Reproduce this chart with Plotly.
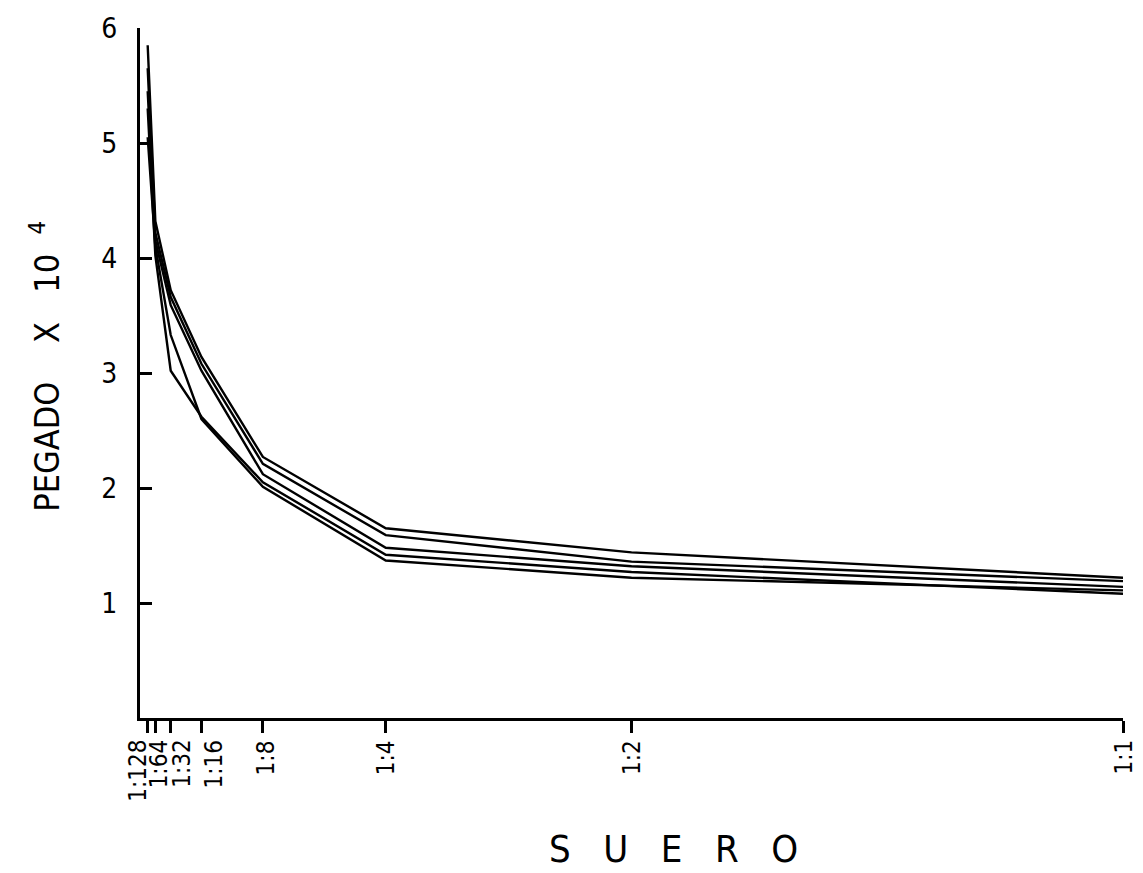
import plotly.graph_objects as go

# Serum dilutions and their relative concentration (linear x scale)
dilution_labels = ["1:128", "1:64", "1:32", "1:16", "1:8", "1:4", "1:2", "1:1"]
concentration = [1 / 128, 1 / 64, 1 / 32, 1 / 16, 1 / 8, 1 / 4, 1 / 2, 1.0]

# Bound counts (x 10^4) for each assay run
run_1 = [5.85, 4.32, 3.72, 3.14, 2.27, 1.65, 1.44, 1.22]
run_2 = [5.65, 4.22, 3.66, 3.08, 2.21, 1.59, 1.36, 1.19]
run_3 = [5.45, 4.15, 3.59, 3.02, 2.12, 1.48, 1.32, 1.14]
run_4 = [5.30, 4.02, 3.02, 2.62, 2.05, 1.42, 1.27, 1.08]
run_5 = [5.05, 4.10, 3.33, 2.60, 2.01, 1.37, 1.22, 1.11]
runs = [run_1, run_2, run_3, run_4, run_5]

y_ticks = [1, 2, 3, 4, 5, 6]

FONT = "Liberation Sans Narrow, DejaVu Sans Condensed, Arial Narrow, sans-serif"

fig = go.Figure()
for vals in runs:
    fig.add_trace(go.Scatter(
        x=concentration, y=vals, mode="lines",
        line=dict(color="black", width=2.4),
        showlegend=False, hoverinfo="skip",
    ))

# Rotated dilution labels under the x axis, spread apart where crowded
label_shift = {"1:128": -10, "1:64": 4, "1:32": 11, "1:16": 13, "1:8": 3}
for lab, c in zip(dilution_labels, concentration):
    fig.add_annotation(
        x=c, xref="x", y=0, yref="paper", text=lab, showarrow=False,
        textangle=-90, xanchor="center", yanchor="top",
        xshift=label_shift.get(lab, 0), yshift=-20,
        font=dict(family=FONT, size=24, color="black"),
    )

nb = "\u00a0"
fig.add_annotation(
    x=0.543, xref="paper", y=-0.19, yref="paper",
    text=(nb * 3).join("SUERO"), showarrow=False,
    xanchor="center", yanchor="middle",
    font=dict(family=FONT, size=38, color="black"),
)
fig.add_annotation(
    x=-0.097, xref="paper", y=0.51, yref="paper",
    text="PEGADO" + nb * 4 + "X" + nb * 3 + "10" + nb * 2 + "<sup>4</sup>",
    showarrow=False, textangle=-90, xanchor="center", yanchor="middle",
    font=dict(family=FONT, size=34, color="black"),
)

fig.update_layout(
    width=1143, height=873,
    margin=dict(l=140, r=20, t=21, b=155),
    paper_bgcolor="white", plot_bgcolor="white",
    xaxis=dict(
        range=[0, 1], showgrid=False, zeroline=False,
        showline=True, linecolor="black", linewidth=3,
        tickmode="array", tickvals=concentration, showticklabels=False,
        ticks="outside", ticklen=12, tickwidth=2.5, tickcolor="black",
    ),
    yaxis=dict(
        range=[0, 6], showgrid=False, zeroline=False,
        showline=True, linecolor="black", linewidth=3,
        tickmode="array", tickvals=y_ticks,
        ticktext=[str(v) for v in y_ticks],
        ticks="inside", ticklen=12, tickwidth=2.5, tickcolor="black",
        ticklabelstandoff=14, ticklabeloverflow="allow",
        tickfont=dict(family=FONT, size=28, color="black"),
    ),
)

fig.write_html("out.html")
